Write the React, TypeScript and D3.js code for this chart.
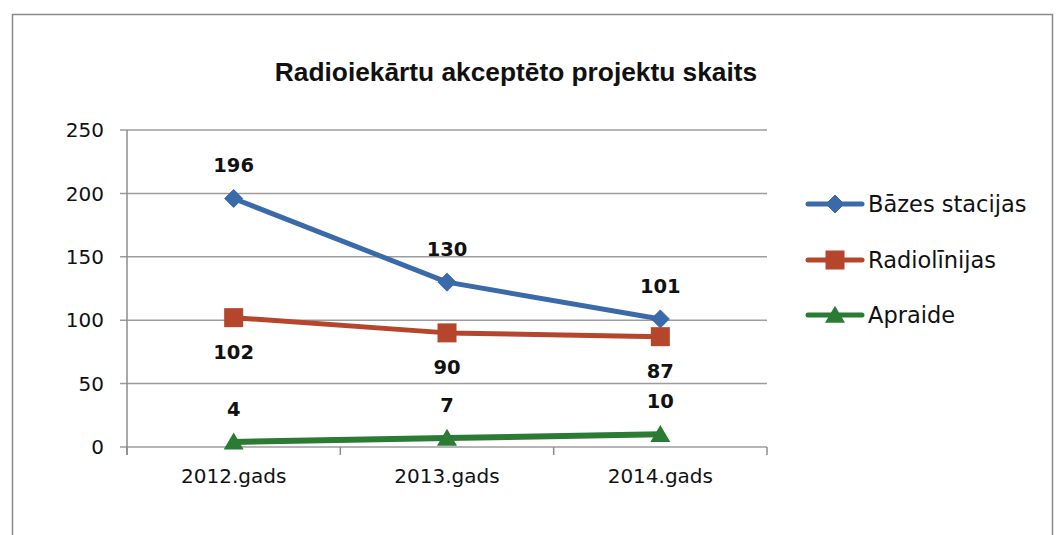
import React from "react";
import * as d3 from "d3";

const categories = ["2012.gads", "2013.gads", "2014.gads"];
const seriesNames = ["Bāzes stacijas", "Radiolīnijas", "Apraide"];
const bazesStacijas = [196, 130, 101];
const radiolinijas = [102, 90, 87];
const apraide = [4, 7, 10];
const yTicks = [0, 50, 100, 150, 200, 250];
const title = "Radioiekārtu akceptēto projektu skaits";

const W = 1056;
const H = 535;
const plot = { left: 127, right: 767, top: 130, bottom: 447 };

const colors = ["#3b6aaa", "#b5452b", "#2b7b35"];
const markerKinds = ["diamond", "square", "triangle"];
const labelPlacement = ["above", "below", "above"];

const AXIS_FONT = "'DejaVu Sans', Verdana, sans-serif";

function Marker({ kind, x, y, color }: { kind: string; x: number; y: number; color: string }) {
  if (kind === "diamond") {
    const r = 9;
    return <path d={`M${x},${y - r}L${x + r},${y}L${x},${y + r}L${x - r},${y}Z`} fill={color} stroke={color} strokeWidth={1} />;
  }
  if (kind === "square") {
    const s = 19;
    return <rect x={x - s / 2} y={y - s / 2} width={s} height={s} fill={color} />;
  }
  const w = 20;
  const h = 17;
  return <path d={`M${x},${y - h * 0.55}L${x + w / 2},${y + h * 0.45}L${x - w / 2},${y + h * 0.45}Z`} fill={color} />;
}

export default function App() {
  const x = d3.scaleBand<string>().domain(categories).range([plot.left, plot.right]).padding(0);
  const y = d3.scaleLinear().domain([0, 250]).range([plot.bottom, plot.top]);
  const cx = (c: string) => (x(c) as number) + x.bandwidth() / 2;
  const series = [bazesStacijas, radiolinijas, apraide];
  const line = d3
    .line<number>()
    .x((_, i) => cx(categories[i]))
    .y((d) => y(d));

  const boundaries = [plot.left, ...categories.map((c) => (x(c) as number) + x.bandwidth())];
  const legendY = [204, 260, 315];

  return (
    <svg
      width={W}
      height={H}
      style={{ position: "absolute", left: 0, top: 0, background: "#fff" }}
      xmlns="http://www.w3.org/2000/svg"
    >
      <rect x={0} y={0} width={W} height={H} fill="#fff" />
      <path d="M12.5,536V14.5H1052.5V536" fill="none" stroke="#8a8a8a" strokeWidth={1.5} />

      <text
        x={516}
        y={81}
        textAnchor="middle"
        fontFamily="'Liberation Sans', Arial, sans-serif"
        fontWeight="bold"
        fontSize={26.3}
        fill="#111"
      >
        {title}
      </text>

      {/* gridlines */}
      {yTicks.map((t) => (
        <line key={t} x1={plot.left - 7} x2={plot.right} y1={y(t)} y2={y(t)} stroke="#9c9c9c" strokeWidth={1.5} />
      ))}
      {/* y axis */}
      <line x1={plot.left} x2={plot.left} y1={plot.top} y2={plot.bottom + 8} stroke="#8c8c8c" strokeWidth={1.5} />
      {boundaries.map((b, i) => (
        <line key={i} x1={b} x2={b} y1={plot.bottom} y2={plot.bottom + 8} stroke="#8c8c8c" strokeWidth={1.5} />
      ))}
      {yTicks.map((t) => (
        <text key={t} x={104} y={y(t)} dy="0.36em" textAnchor="end" fontFamily={AXIS_FONT} fontSize={20} fill="#111">
          {t}
        </text>
      ))}
      {categories.map((c) => (
        <text key={c} x={cx(c)} y={483} textAnchor="middle" fontFamily={AXIS_FONT} fontSize={20} fill="#111">
          {c}
        </text>
      ))}

      {/* series */}
      {series.map((vals, si) => (
        <g key={si}>
          <path d={line(vals) || ""} fill="none" stroke={colors[si]} strokeWidth={si === 2 ? 6 : 5} strokeLinejoin="round" />
          {vals.map((v, i) => (
            <Marker key={i} kind={markerKinds[si]} x={cx(categories[i])} y={y(v)} color={colors[si]} />
          ))}
          {vals.map((v, i) => (
            <text
              key={"l" + i}
              x={cx(categories[i])}
              y={labelPlacement[si] === "above" ? y(v) - 26 : y(v) + 41}
              textAnchor="middle"
              fontFamily={AXIS_FONT}
              fontWeight="bold"
              fontSize={19.5}
              fill="#111"
            >
              {v}
            </text>
          ))}
        </g>
      ))}

      {/* legend */}
      {seriesNames.map((n, i) => (
        <g key={n}>
          <line x1={808} x2={862} y1={legendY[i]} y2={legendY[i]} stroke={colors[i]} strokeWidth={5} strokeLinecap="round" />
          <Marker kind={markerKinds[i]} x={835} y={legendY[i]} color={colors[i]} />
          <text x={868} y={legendY[i]} dy="0.36em" fontFamily={AXIS_FONT} fontSize={22.5} fill="#111">
            {n}
          </text>
        </g>
      ))}
    </svg>
  );
}
